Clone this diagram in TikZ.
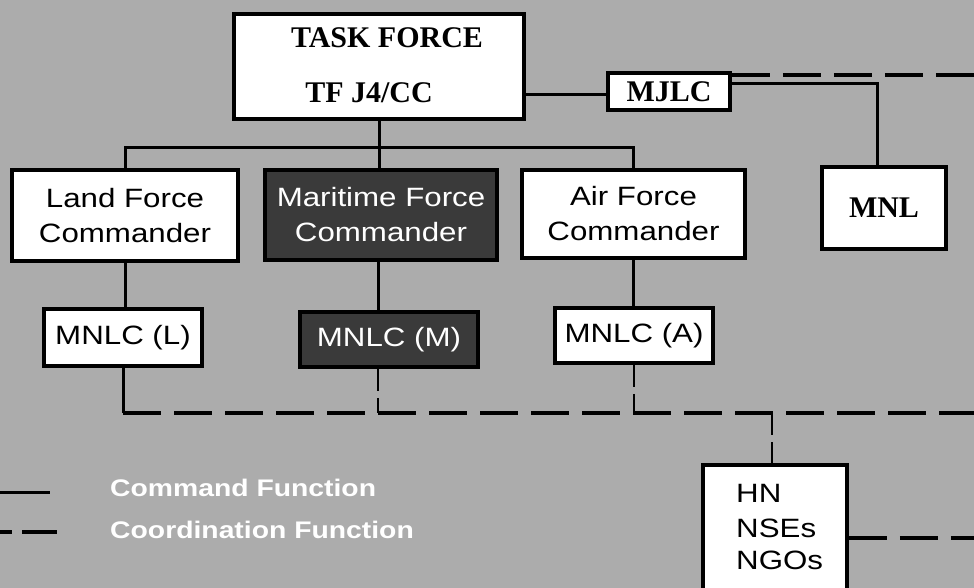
\documentclass[tikz,border=0pt]{standalone}
\usepackage{fontspec}
\newfontfamily\sansw[FakeStretch=1.18]{Liberation Sans}
\newfontfamily\serifb{Liberation Serif}
\definecolor{bg}{RGB}{172,172,172}
\definecolor{darkbox}{RGB}{58,58,58}
\begin{document}
\begin{tikzpicture}[x=1pt,y=-1pt,
  box/.style={draw=black,line width=3.5pt,fill=white,inner sep=0pt,align=center,text=black},
  darkb/.style={box,fill=darkbox,text=white},
  cmdtxt/.style={font=\sansw\fontsize{26.5}{35}\selectfont},
  bigb/.style={font=\serifb\bfseries\fontsize{30}{34}\selectfont},
  conn/.style={line width=3pt},
  coordl/.style={line width=3.5pt,dash pattern=on 38pt off 13pt},
  vdash/.style={line width=2.6pt,dash pattern=on 22pt off 7pt on 40pt},
  legtxt/.style={font=\sansw\bfseries\fontsize{24}{28}\selectfont,text=white,anchor=base west,inner sep=0pt}]
\fill[bg] (0,0) rectangle (974,588);
\useasboundingbox (0,0) rectangle (974,588);
\begin{scope}
\clip (0,0) rectangle (974,588);
% coordinates for connector ends
\coordinate (bus) at (377,148);
\coordinate (dright) at (974,413);
\coordinate (r1) at (974,75);
\coordinate (r3) at (974,538);
\coordinate (lgA) at (0,492);
\coordinate (lgB) at (50,492);
\coordinate (lgC) at (0,532);
\coordinate (lgD) at (57,532);

% nodes
\node[box,minimum width=290,minimum height=105] (tf) at (379,66.5) {};
\node[bigb,anchor=base,inner sep=0pt] (tft1) at (387,48) {TASK FORCE};
\node[bigb,anchor=base,inner sep=0pt] (tft2) at (369,103) {TF J4/CC};
\node[box,bigb,minimum width=122,minimum height=37] (mjlc) at (669,91.5) {MJLC};
\node[box,bigb,minimum width=124,minimum height=82] (mnl) at (884,208) {MNL};
\node[box,cmdtxt,minimum width=226,minimum height=91] (land) at (125,215.5) {Land Force\\Commander};
\node[darkb,cmdtxt,minimum width=232,minimum height=90] (mar) at (381,215) {Maritime Force\\Commander};
\node[box,cmdtxt,minimum width=223,minimum height=88] (air) at (633.5,214) {Air Force\\Commander};
\node[box,cmdtxt,minimum width=158,minimum height=57] (mnlcl) at (123,337.5) {MNLC (L)};
\node[darkb,cmdtxt,minimum width=178,minimum height=55] (mnlcm) at (389,339.5) {MNLC (M)};
\node[box,cmdtxt,minimum width=158,minimum height=55] (mnlca) at (634,335.5) {MNLC (A)};
\node[box,minimum width=144,minimum height=135] (hn) at (775,532.5) {};
\node[cmdtxt,anchor=base west,inner sep=0pt,align=left] (hnt1) at (736,502) {HN};
\node[cmdtxt,anchor=base west,inner sep=0pt,align=left] (hnt2) at (736,537) {NSEs};
\node[cmdtxt,anchor=base west,inner sep=0pt,align=left] (hnt3) at (736,569) {NGOs};

% command connectors
\draw[conn] (tf.south) -- (tf.south |- mar.north);
\draw[conn] (land.north) |- (air.north |- bus) -- (air.north);
\draw[conn] (land.south) -- (land.south |- mnlcl.north);
\draw[conn] ([xshift=-3pt]mar.south) -- ([xshift=-3pt]mar.south |- mnlcm.north);
\draw[conn] (air.south) -- (air.south |- mnlca.north);
\draw[conn] ([yshift=-3.5pt]mjlc.west) -- ([yshift=-3.5pt]mjlc.west -| tf.east);
\draw[conn] ([yshift=7.5pt]mjlc.east) -| ([xshift=-7pt]mnl.north);
\draw[conn] (mnlcl.south) -- (mnlcl.south |- dright);

% coordination connectors
\draw[coordl] (mnlcl.south |- dright) -- (dright);
\draw[coordl] (mjlc.north east |- r1) -- (r1);
\draw[coordl] (hn.east |- r3) -- (r3);
\draw[vdash] ([xshift=-3pt]mar.south |- mnlcm.south) -- ([xshift=-3pt]mar.south |- dright);
\draw[vdash] (mnlca.south) -- (mnlca.south |- dright);
\draw[vdash] ([xshift=-3pt]hn.north |- dright) -- ([xshift=-3pt]hn.north);

% legend
\draw[conn] (lgA) -- (lgB);
\draw[line width=3.5pt,dash pattern=on 12pt off 10pt on 40pt] (lgC) -- (lgD);
\node[legtxt] (leg1) at (110,496) {Command Function};
\node[legtxt] (leg2) at (110,538) {Coordination Function};
\end{scope}
\end{tikzpicture}
\end{document}
